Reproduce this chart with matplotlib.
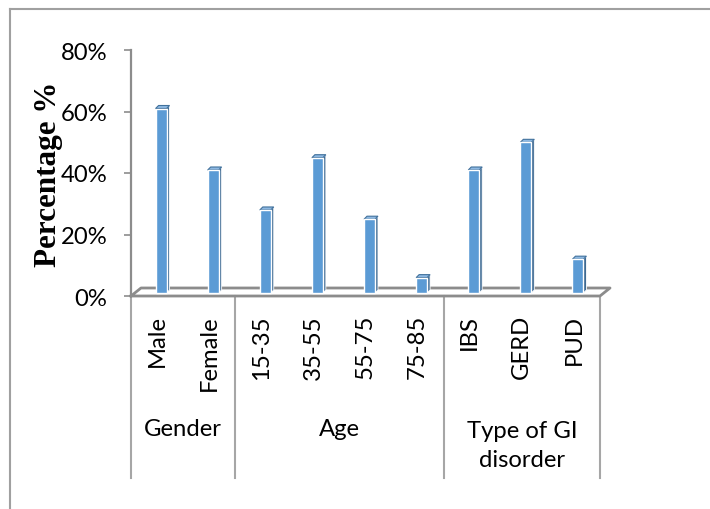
import matplotlib
matplotlib.use("Agg")
import matplotlib.pyplot as plt
from matplotlib.patches import Polygon
from matplotlib.lines import Line2D
import matplotlib.transforms as mtransforms
import numpy as np

# ---- data ----
categories = ["Male", "Female", "15-35", "35-55", "55-75", "75-85", "IBS", "GERD", "PUD"]
percentages = [0.60, 0.40, 0.27, 0.44, 0.24, 0.05, 0.40, 0.49, 0.11]
group_names = ["Gender", "Age", "Type of GI\ndisorder"]
group_sizes = [2, 4, 3]
y_ticks = [0.0, 0.2, 0.4, 0.6, 0.8]
y_tick_labels = ["0%", "20%", "40%", "60%", "80%"]

W, H, DPI = 710, 510, 100
fig = plt.figure(figsize=(W / DPI, H / DPI), dpi=DPI)
fig.patch.set_facecolor("white")

label_font = "Lato"
label_size = 17.2
axis_gray = "#8C8C8C"
sep_gray = "#A6A6A6"
front_col = "#5B9BD5"
side_col = "#3E6A93"
top_col = "#8DB8E2"
top_edge = "#41719C"

# plot area (front plane of the 3-D floor)
x0, x1, yb, yt = 131, 600, 297, 51
ax = fig.add_axes([x0 / W, 1 - yb / H, (x1 - x0) / W, (yb - yt) / H])
n = len(categories)
ax.set_xlim(-0.5, n - 0.5)
ax.set_ylim(0, 0.8)
ax.set_facecolor("none")
for s in ["top", "right", "bottom"]:
    ax.spines[s].set_visible(False)
ax.spines["left"].set_color(axis_gray)
ax.spines["left"].set_linewidth(1.6)
ax.set_xticks([])
ax.set_yticks(y_ticks)
ax.set_yticklabels(y_tick_labels, fontsize=label_size, fontname=label_font, color="black")
ax.tick_params(axis="y", length=5, width=1.2, color=axis_gray, pad=12)

ax.set_ylabel("Percentage %", fontsize=22.4, fontname="Liberation Serif",
              fontweight="bold", labelpad=4)
ax.yaxis.set_label_coords(-68 / (x1 - x0), 0.5)

# 3-D geometry in pixels
floor_dx, floor_dy = 10, 8     # depth of floor
bar_dx, bar_dy = 4, 3          # where bars stand inside the floor
side_dx, side_dy = 3, 3        # bar depth
bar_w = 0.21

to_disp = ax.transData.transform

# floor outline
p_fl = to_disp((-0.5, 0))
p_fr = to_disp((n - 0.5, 0))
floor = np.array([
    p_fl, p_fr,
    p_fr + [floor_dx, floor_dy],
    p_fl + [floor_dx, floor_dy],
    p_fl,
])
fig.add_artist(Line2D(floor[:, 0], floor[:, 1], transform=None,
                      color=axis_gray, lw=2.0, zorder=1))

# bars
for i, v in enumerate(percentages):
    bl = to_disp((i - bar_w / 2, 0)) + [bar_dx, bar_dy]
    tr = to_disp((i + bar_w / 2, v)) + [bar_dx, bar_dy]
    xl, xr = bl[0], tr[0]
    ybot, ytop = bl[1], tr[1]
    side = Polygon([(xr, ybot), (xr + side_dx, ybot + side_dy),
                    (xr + side_dx, ytop + side_dy), (xr, ytop)],
                   closed=True, transform=None, facecolor=side_col,
                   edgecolor="white", lw=0.6, zorder=3)
    top = Polygon([(xl, ytop), (xr, ytop), (xr + side_dx, ytop + side_dy),
                   (xl + side_dx, ytop + side_dy)],
                  closed=True, transform=None, facecolor=top_col,
                  edgecolor=top_edge, lw=0.8, zorder=3)
    front = Polygon([(xl, ybot), (xr, ybot), (xr, ytop), (xl, ytop)],
                    closed=True, transform=None, facecolor=front_col,
                    edgecolor="white", lw=1.0, zorder=4)
    for p in (side, top, front):
        fig.add_artist(p)

# category labels
trans_lab = mtransforms.blended_transform_factory(ax.transData, ax.transAxes)
lab_y = -18 / (yb - yt)
for i, c in enumerate(categories):
    ax.text(i, lab_y, c, rotation=90, ha="center", va="top",
            fontsize=label_size, fontname=label_font, transform=trans_lab)

# group separators and names
sep_bottom = -(479 - yb) / (yb - yt)
bounds = np.concatenate([[0], np.cumsum(group_sizes)]) - 0.5
for b in bounds:
    ax.add_line(Line2D([b, b], [0, sep_bottom], transform=trans_lab,
                       color=sep_gray, lw=1.5, clip_on=False))
for g, (a, b) in enumerate(zip(bounds[:-1], bounds[1:])):
    ty = -(430 - yb) / (yb - yt) if "\n" not in group_names[g] else -(446 - yb) / (yb - yt)
    ax.text((a + b) / 2, ty, group_names[g], ha="center", va="center",
            fontsize=label_size, fontname=label_font, transform=trans_lab,
            linespacing=1.45)

# chart border (top and left edges)
fig.add_artist(Line2D([10 / W, 1.0], [1 - 10 / H, 1 - 10 / H],
                      transform=fig.transFigure, color="#A0A0A0", lw=1.5))
fig.add_artist(Line2D([10 / W, 10 / W], [0.0, 1 - 10 / H],
                      transform=fig.transFigure, color="#A0A0A0", lw=1.5))

fig.savefig("out.png", dpi=DPI)
